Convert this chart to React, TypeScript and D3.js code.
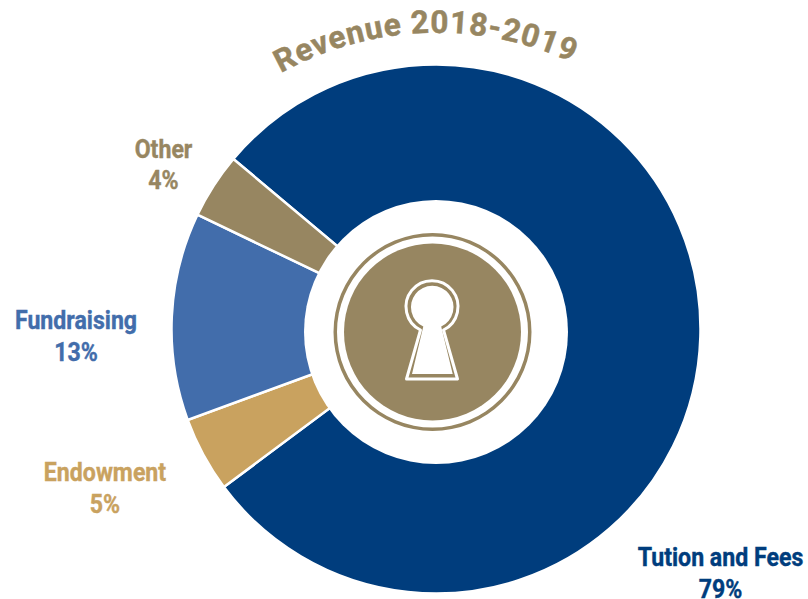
import React from "react";
import * as d3 from "d3";

const categories = ["Tution and Fees", "Endowment", "Fundraising", "Other"];
const shares = [78.7, 4.6, 12.7, 4.0];
const shareLabels = ["79%", "5%", "13%", "4%"];
const colors = ["#003d7d", "#c9a25f", "#426dab", "#978661"];
const labelPos = [
  [720.5, 566],
  [105, 481],
  [76, 329],
  [163.5, 157.5],
];
const GOLD = "#978661";
const title = "Revenue 2018-2019";
const font = "Roboto, sans-serif";

function Label({ x, y, name, pct, color }: any) {
  return (
    <g transform={`translate(${x},${y}) scale(0.925,1)`} fill={color} stroke={color} strokeWidth={0.4} fontFamily={font} fontWeight={700} fontSize={25} textAnchor="middle">
      <text x={0} y={0}>{name}</text>
      <text x={0} y={32}>{pct}</text>
    </g>
  );
}

export default function App() {
  const cx = 436, cy = 329, R = 264.5;
  const start = (310 * Math.PI) / 180;
  const pie = d3.pie<number>().sort(null).startAngle(start).endAngle(start + 2 * Math.PI);
  const arcs = pie(shares);
  const arc = d3.arc<any>().innerRadius(0).outerRadius(R);
  const full = (a: number, b: number) => d3.arc()({ innerRadius: a, outerRadius: b, startAngle: 0, endAngle: 2 * Math.PI } as any) as string;
  const kx = 432, ky = 307;
  const keyInner = "M-8.7,19.5 A21.3,21.3 0 1 1 9.2,19.5 L20.7,67 L-20,67 Z";
  const keyOuter = "M-11.5,23 A26,26 0 1 1 11.5,23 L25.5,72 L-25.5,72 Z";
  return (
    <svg width={808} height={599} viewBox="0 0 808 599" style={{ position: "absolute", left: 0, top: 0, background: "#fff" }}>
      <defs>
        <path id="titleArc" d="M 281 73 A 322 322 0 0 1 591 72" fill="none" />
      </defs>
      <g transform={`translate(${cx},${cy})`}>
        {arcs.map((d, i) => (
          <path key={categories[i]} d={arc(d) as string} fill={colors[i]} stroke="#fff" strokeWidth={2.5} />
        ))}
      </g>
      <circle cx={436} cy={332} r={132} fill="#fff" />
      <g transform="translate(432.5,332)">
        <path d={full(95.5, 99)} fill={GOLD} />
        <path d={full(0, 88.5)} fill={GOLD} />
      </g>
      <g transform={`translate(${kx},${ky})`}>
        <path d={keyInner} fill="#fff" />
        <path d={keyOuter} fill="none" stroke="#fff" strokeWidth={3} strokeLinejoin="round" />
      </g>
      <text fontFamily={font} fontWeight={700} fontSize={31.5} fill={GOLD} stroke={GOLD} strokeWidth={0.5} letterSpacing={0.9}>
        <textPath href="#titleArc">{title}</textPath>
      </text>
      {categories.map((c, i) => (
        <Label key={c} x={labelPos[i][0]} y={labelPos[i][1]} name={c} pct={shareLabels[i]} color={colors[i]} />
      ))}
    </svg>
  );
}
